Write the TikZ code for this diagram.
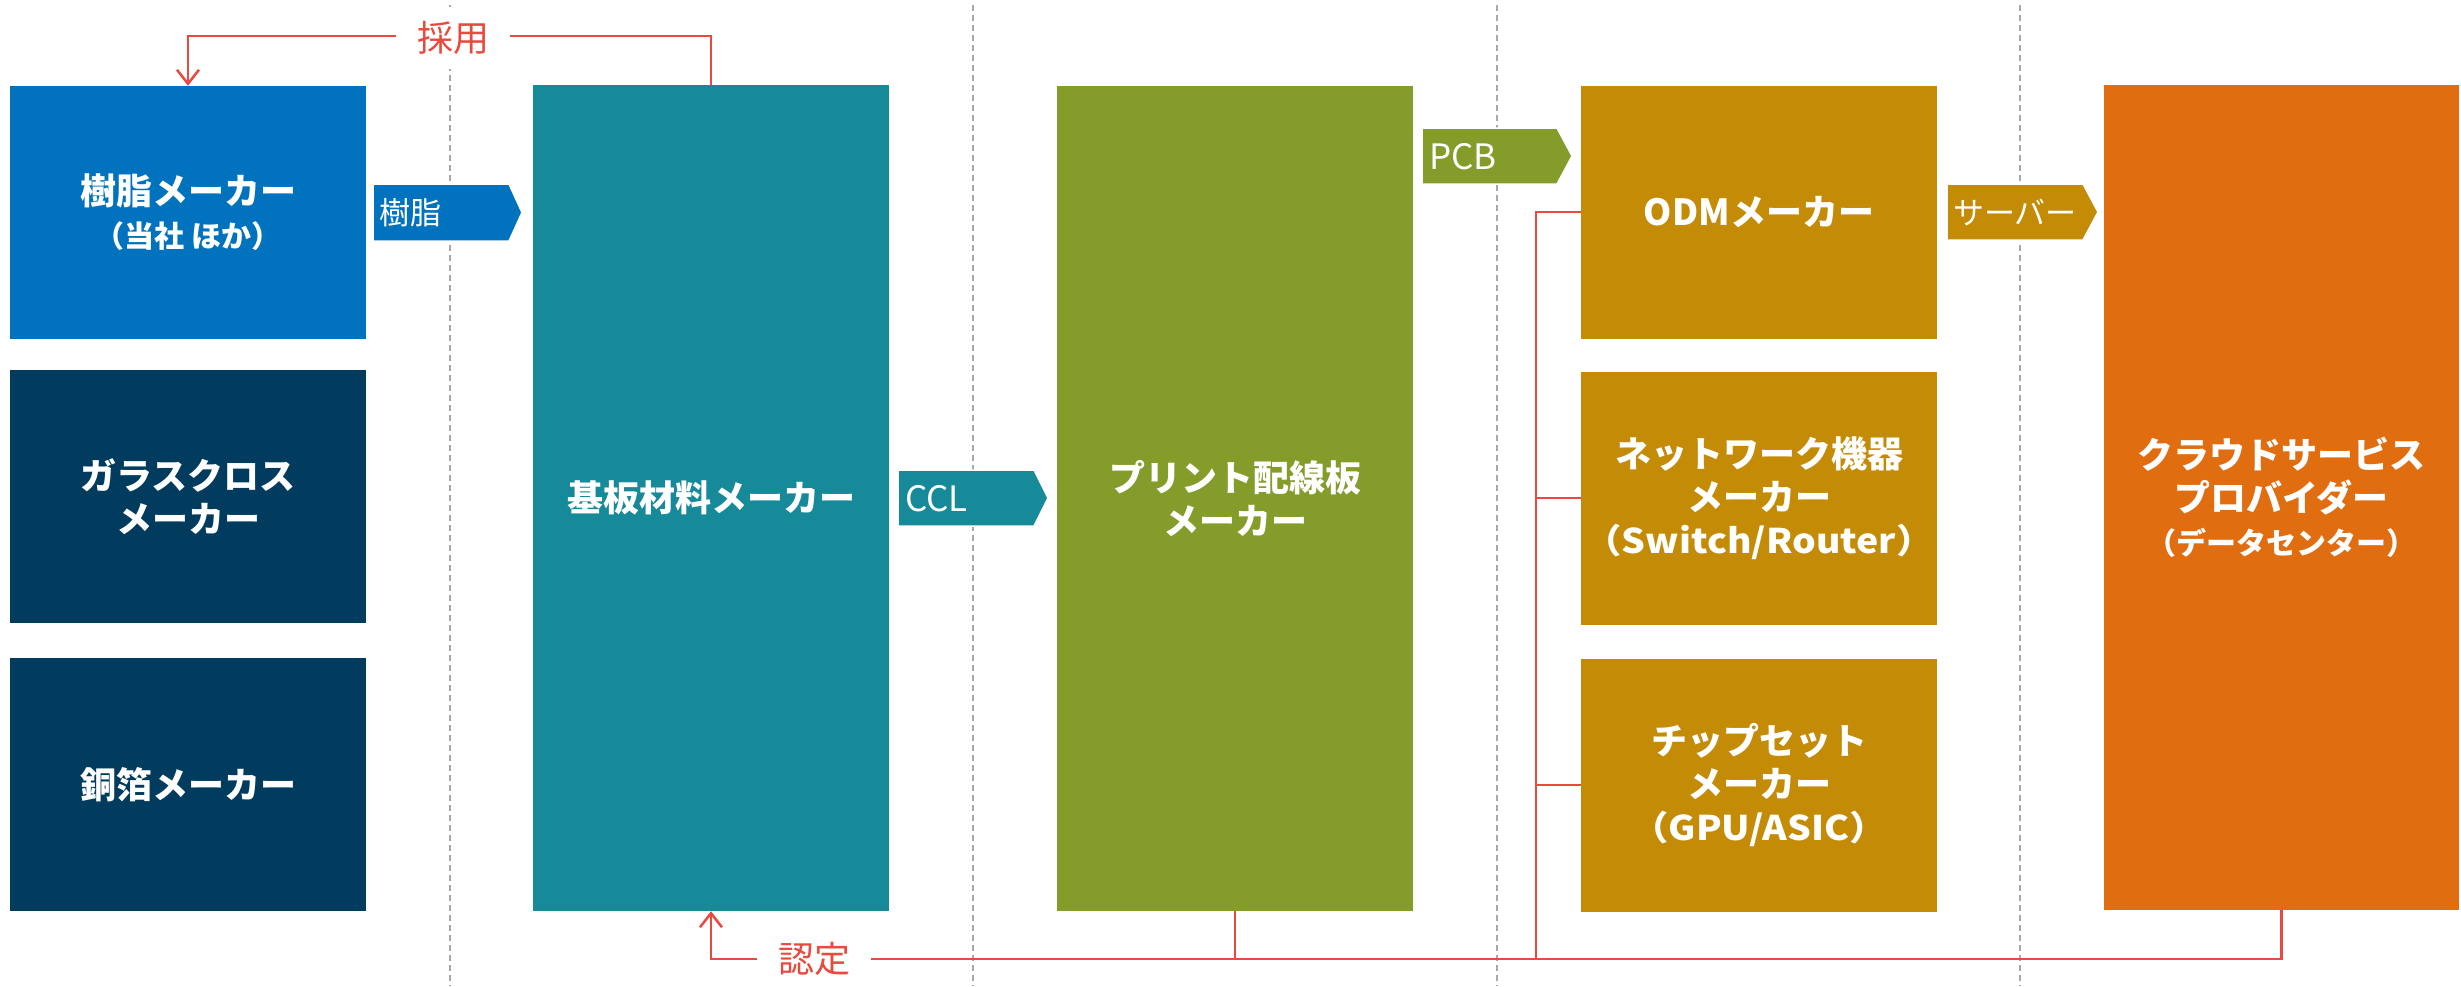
\documentclass[tikz,border=0pt]{standalone}
\usepackage{fontspec}
\setmainfont{Noto Sans CJK JP}
\newfontfamily\jpwide[FakeStretch=1.1]{Noto Sans CJK JP}
\usetikzlibrary{arrows.meta}
\definecolor{cResin}{HTML}{0072BE}
\definecolor{cNavy}{HTML}{013C5E}
\definecolor{cTeal}{HTML}{178A9A}
\definecolor{cGreen}{HTML}{849C2A}
\definecolor{cGold}{HTML}{C48B07}
\definecolor{cOrange}{HTML}{E06E11}
\definecolor{cRed}{HTML}{E84A3F}
\definecolor{cGray}{HTML}{A8A8A8}
\tikzset{
  box/.style={rectangle, inner sep=0pt, minimum width=356pt, text=white, align=center,
    font=\bfseries\fontsize{36}{43}\selectfont},
  sepline/.style={draw=cGray, line width=1.5pt, dash pattern=on 6pt off 4pt},
  flowarrow/.style={draw=white, line width=1.5pt},
  arrlabel/.style={anchor=west, text=white, inner sep=0pt, font=\fontsize{31}{31}\selectfont},
  arrlatin/.style={anchor=west, text=white, inner sep=0pt, font=\fontsize{35}{35}\selectfont},
  redline/.style={draw=cRed, line width=2.5pt},
  redarrow/.style={redline, -{Straight Barb[length=14pt,width=22pt]}},
  redlabel/.style={fill=white, text=cRed, inner xsep=21pt, minimum height=62pt, font=\fontsize{36}{36}\selectfont},
  paren/.style={font=\bfseries\fontsize{30}{40}\selectfont}
}
\begin{document}
\begin{tikzpicture}[x=1pt,y=-1pt]
\useasboundingbox (0,0) rectangle (2461,986);
% separators
\foreach \x in {450,973,1497,2020} \draw[sepline] (\x,5) -- (\x,986);
% boxes
\node[box, fill=cResin, minimum height=253pt] (resin) at (188,212.5)
  {樹脂メーカー\\{\fontsize{30}{40}\selectfont （当社 ほか）}};
\node[box, fill=cNavy, minimum height=253pt] (glass) at (188,496.5)
  {ガラスクロス\\メーカー};
\node[box, fill=cNavy, minimum height=253pt] (copper) at (188,784.5)
  {銅箔メーカー};
\node[box, fill=cTeal, minimum height=826pt] (subst) at (711,498)
  {基板材料メーカー};
\node[box, fill=cGreen, minimum height=825pt] (pcb) at (1235,498)
  {プリント配線板\\メーカー};
\node[box, fill=cGold, minimum height=253pt] (odm) at (1759,212)
  {ODMメーカー};
\node[box, fill=cGold, minimum height=253pt] (net) at (1759,498)
  {ネットワーク機器\\メーカー\\{\jpwide\fontsize{34}{40}\selectfont （Switch/Router）}};
\node[box, fill=cGold, minimum height=253pt] (chip) at (1759,785)
  {チップセット\\メーカー\\{\jpwide\fontsize{34}{40}\selectfont （GPU/ASIC）}};
\node[box, fill=cOrange, minimum width=355pt, minimum height=825pt] (cloud) at (2281.5,497)
  {クラウドサービス\\プロバイダー\\{\fontsize{30}{40}\selectfont （データセンター）}};
% flow arrows
\fill[cResin, flowarrow] (373,184) -- (509,184) -- (522,212.5) -- (509,241) -- (373,241) -- cycle;
\node[arrlabel] (lres) at (379,213) {樹脂};
\fill[cTeal, flowarrow] (898,470) -- (1034,470) -- (1048,498) -- (1034,526) -- (898,526) -- cycle;
\node[arrlatin] (lccl) at (905,499) {CCL};
\fill[cGreen, flowarrow] (1422,128) -- (1557,128) -- (1572,156) -- (1557,184) -- (1422,184) -- cycle;
\node[arrlatin] (lpcb) at (1429,157) {PCB};
\fill[cGold, flowarrow] (1947,184) -- (2083,184) -- (2098,212) -- (2083,240) -- (1947,240) -- cycle;
\node[arrlabel] (lsrv) at (1953,213) {サーバー};
% red connectors
\coordinate (topy) at (0,36);
\coordinate (boty) at (0,959);
\coordinate (bus) at (1536,0);
\draw[redarrow] (subst.north) -- (subst.north |- topy) -- (resin.north |- topy) -- (resin.north);
\node[redlabel] (adopt) at (453,38) {採用};
\draw[redarrow] (cloud.south) -- (cloud.south |- boty) -- (subst.south |- boty) -- (subst.south);
\draw[redline] (pcb.south) -- (pcb.south |- boty);
\draw[redline] (odm.west) -- (odm.west -| bus) -- (bus |- boty);
\draw[redline] (net.west) -- (net.west -| bus);
\draw[redline] (chip.west) -- (chip.west -| bus);
\node[redlabel] (cert) at (814,959) {認定};
\end{tikzpicture}
\end{document}
